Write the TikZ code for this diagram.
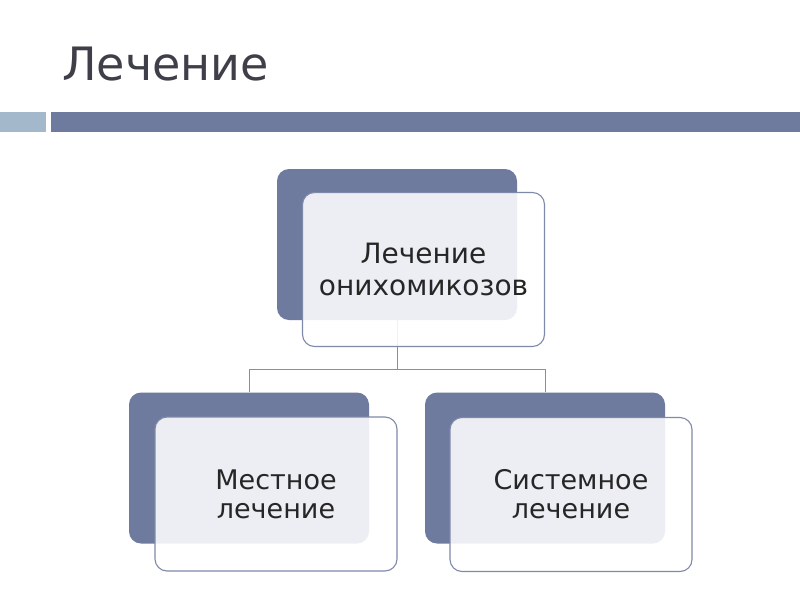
\documentclass[tikz,border=0pt]{standalone}
\usepackage{fontspec}
\setmainfont{DejaVu Sans}
\definecolor{darkbox}{HTML}{6F7A9F}
\definecolor{lightedge}{HTML}{7F89A8}
\definecolor{barlight}{HTML}{A3B9CB}
\definecolor{conncol}{HTML}{8E8E8E}
\definecolor{titlecol}{HTML}{3F3F4A}
\definecolor{txtcol}{HTML}{262626}
\begin{document}
\begin{tikzpicture}[x=1pt,y=-1pt,
  backbox/.style={rectangle,rounded corners=12pt,fill=darkbox,draw=none,inner sep=0pt,
    minimum width=240pt,minimum height=151pt},
  frontbox/.style={rectangle,rounded corners=12pt,fill=white,fill opacity=0.88,text opacity=1,
    draw=lightedge,line width=1.1pt,inner sep=0pt,minimum width=242pt,minimum height=154pt,
    align=center,text=txtcol},
  toptxt/.style={font=\fontsize{28}{32}\selectfont},
  subtxt/.style={font=\fontsize{27}{29}\selectfont},
  conn/.style={draw=conncol,line width=0.9pt}]
\useasboundingbox (0,0) rectangle (800,600);
% title
\node[anchor=base west,inner sep=0pt,text=titlecol,font=\fontsize{46}{50}\selectfont] (title) at (62,80) {Лечение};
\fill[barlight] (0,112) rectangle (46,132);
\fill[darkbox] (51,112) rectangle (800,132);
% back boxes
\node[backbox] (topd) at (397,244.5) {};
\node[backbox] (leftd) at (249,468) {};
\node[backbox] (rightd) at (545,468) {};
% connectors
\coordinate (junc) at (397,369);
\draw[conn] (topd.south) -- (junc);
\draw[conn] (junc) -| (leftd.north);
\draw[conn] (junc) -| (rightd.north);
% front boxes
\node[frontbox,toptxt] (topf) at (423.5,269.5) {Лечение\\онихомикозов};
\node[frontbox,subtxt] (leftf) at (276,494) {Местное\\лечение};
\node[frontbox,subtxt] (rightf) at (571,494.5) {Системное\\лечение};
\end{tikzpicture}
\end{document}
